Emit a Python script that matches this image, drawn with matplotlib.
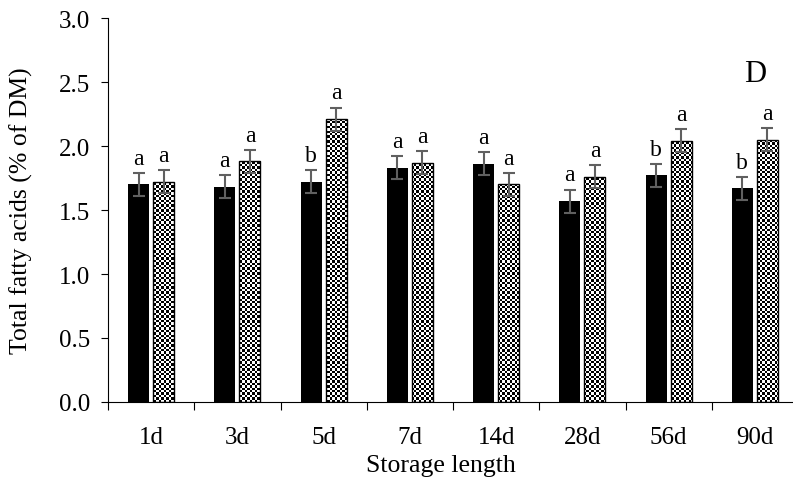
import numpy as np
import matplotlib.pyplot as plt

# datos del gráfico
dias = ["1d", "3d", "5d", "7d", "14d", "28d", "56d", "90d"]
control = [1.70, 1.68, 1.72, 1.83, 1.86, 1.57, 1.77, 1.67]
tratado = [1.72, 1.88, 2.21, 1.87, 1.70, 1.76, 2.04, 2.05]
err_control = [0.09, 0.09, 0.09, 0.09, 0.09, 0.09, 0.09, 0.09]
err_tratado = [0.09, 0.09, 0.09, 0.09, 0.09, 0.09, 0.09, 0.09]
letras_control = ["a", "a", "b", "a", "a", "a", "b", "b"]
letras_tratado = ["a", "a", "a", "a", "a", "a", "a", "a"]

plt.rcParams["font.family"] = ["Liberation Serif", "DejaVu Serif"]

fig = plt.figure(figsize=(7.93, 4.81), dpi=100)
ax = fig.add_axes([108 / 793, 1 - 403 / 481, 690 / 793, 384 / 481])

x = np.arange(len(dias))
ancho = 0.245
desp = 0.145

ax.bar(x - desp, control, ancho, color="black", zorder=2)
barras = ax.bar(x + desp, tratado, ancho, facecolor="none",
                edgecolor="black", linewidth=1, zorder=3)

ax.set_xlim(-0.5, len(dias) - 0.5)
ax.set_ylim(0, 3.0)

# patrón de tablero de ajedrez recortado a cada barra
celda = 2.4
ny, nx = int(384 / celda), int(690 / celda)
tablero = (np.indices((ny, nx)).sum(axis=0) % 2).astype(float)
for b in barras:
    im = ax.imshow(tablero, cmap="gray", extent=(-0.5, len(dias) - 0.5, 0, 3.0),
                   aspect="auto", interpolation="nearest", zorder=2.5)
    im.set_clip_path(b)

gris = "#606060"
ax.errorbar(x - desp, control, yerr=err_control, fmt="none", ecolor=gris,
            elinewidth=1.5, capsize=4.5, capthick=1.5, zorder=4)
ax.errorbar(x + desp, tratado, yerr=err_tratado, fmt="none", ecolor=gris,
            elinewidth=1.5, capsize=4.5, capthick=1.5, zorder=4)

for i in range(len(dias)):
    ax.annotate(letras_control[i], (x[i] - desp, control[i] + err_control[i]),
                xytext=(0, 3), textcoords="offset points", ha="center",
                va="bottom", fontsize=17)
    ax.annotate(letras_tratado[i], (x[i] + desp, tratado[i] + err_tratado[i]),
                xytext=(0, 3), textcoords="offset points", ha="center",
                va="bottom", fontsize=17)

ax.text(0.938, 0.855, "D", transform=ax.transAxes, ha="center", va="center",
        fontsize=22)

ax.spines["top"].set_visible(False)
ax.spines["right"].set_visible(False)

ax.set_yticks(np.arange(0, 3.01, 0.5))
ax.set_yticklabels([f"{v:.1f}" for v in np.arange(0, 3.01, 0.5)])
ax.tick_params(axis="y", direction="out", length=5, pad=8, labelsize=18)

ax.set_xticks(np.arange(-0.5, len(dias), 1.0))
ax.set_xticklabels([])
ax.set_xticks(x, minor=True)
ax.set_xticklabels(dias, minor=True)
ax.tick_params(axis="x", which="major", direction="out", length=6)
ax.tick_params(axis="x", which="minor", length=0, pad=17, labelsize=18)

ax.set_ylabel("Total fatty acids (% of DM)", fontsize=18.5, va="center")
ax.yaxis.set_label_coords(-0.126, 0.5)
ax.set_xlabel("Storage length", fontsize=18.5, va="center")
ax.xaxis.set_label_coords(0.483, -0.163)

fig.savefig("out.png", dpi=100)
